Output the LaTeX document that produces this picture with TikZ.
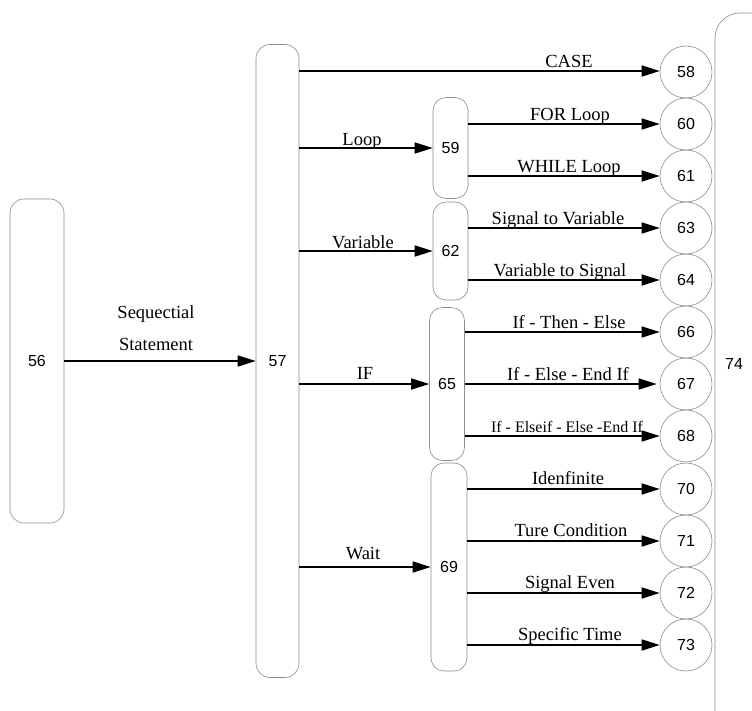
\documentclass[tikz,border=0pt]{standalone}
\usepackage{fontspec}
\setmainfont{Liberation Serif}
\newfontfamily\numfont{Liberation Sans}
\usetikzlibrary{arrows.meta,shapes.geometric}
\begin{document}
\begin{tikzpicture}[x=1pt,y=-1pt,
  box/.style={draw=black!45,line width=0.6pt,rounded corners=14pt,inner sep=0pt,font=\numfont\fontsize{16}{18}\selectfont},
  circ/.style={draw=black!45,line width=0.6pt,circle,minimum size=52pt,inner sep=0pt,font=\numfont\fontsize{16}{18}\selectfont},
  arr/.style={line width=1.6pt,-{Triangle[length=18pt,width=11pt]}},
  lab/.style={font=\fontsize{18.5}{20}\selectfont,inner sep=0pt,anchor=base},
  slab/.style={font=\fontsize{16}{18}\selectfont,inner sep=0pt,anchor=base}]
\useasboundingbox (0,0) rectangle (752,710);
\clip (0,0) rectangle (752,710);
\fill[white] (0,0) rectangle (752,710);
% big box 74 (cut by right edge)
\draw[draw=black!45,line width=0.6pt,rounded corners=25pt] (800,13) -- (715,13) -- (715,760);
\node[font=\numfont\fontsize{16}{18}\selectfont] (n74) at (734,364) {74};
% boxes
\node[box,minimum width=54pt,minimum height=324pt] (b56) at (37,361) {56};
\node[box,minimum width=43pt,minimum height=633pt] (b57) at (277.5,361) {57};
\node[box,rounded corners=13pt,minimum width=35pt,minimum height=101pt] (b59) at (450.5,148) {59};
\node[box,rounded corners=13pt,minimum width=35pt,minimum height=98pt] (b62) at (450.5,251) {62};
\node[box,rounded corners=13pt,minimum width=35pt,minimum height=153pt] (b65) at (447,384) {65};
\node[box,rounded corners=13pt,minimum width=36pt,minimum height=208pt] (b69) at (449,567) {69};
% circles
\foreach \n/\y in {58/72,60/124,61/176,63/228,64/280,66/332,67/384,68/436,70/489,71/541,72/593,73/645}
  \node[circ] (c\n) at (686,\y) {\n};
% 56 -> 57
\draw[arr] (b56.east |- 0,361) -- (b57.west |- 0,361);
\node[lab] (tseq1) at (156,318) {Sequectial};
\node[lab] (tseq2) at (156,350) {Statement};
% 57 -> level 2
\draw[arr] (b57.east |- 0,71) -- (c58.west |- 0,71);
\node[lab] (tcase) at (569,67) {CASE};
\draw[arr] (b57.east |- b59) -- (b59.west);
\node[lab] (tloop) at (362,145) {Loop};
\draw[arr] (b57.east |- b62) -- (b62.west);
\node[lab] (tvar) at (363,248) {Variable};
\draw[arr] (b57.east |- b65) -- (b65.west);
\node[lab] (tif) at (365,379) {IF};
\draw[arr] (b57.east |- b69) -- (b69.west);
\node[lab] (twait) at (363,559) {Wait};
% 59
\draw[arr] (b59.east |- c60) -- (c60.west);
\node[lab] (tfor) at (570,120) {FOR Loop};
\draw[arr] (b59.east |- c61) -- (c61.west);
\node[lab] (twhile) at (569,172) {WHILE Loop};
% 62
\draw[arr] (b62.east |- c63) -- (c63.west);
\node[lab] (ts2v) at (558,224) {Signal to Variable};
\draw[arr] (b62.east |- c64) -- (c64.west);
\node[lab] (tv2s) at (560,276) {Variable to Signal};
% 65
\draw[arr] (b65.east |- c66) -- (c66.west);
\node[lab] (tite) at (569,328) {If - Then - Else};
\draw[arr] (b65.east |- c67) -- ([xshift=-3pt]c67.west);
\node[lab] (tiee) at (568,380) {If - Else - End If};
\draw[arr] (b65.east |- c68) -- (c68.west);
\node[slab] (tieee) at (567,432) {If - Elseif - Else -End If};
% 69
\draw[arr] (b69.east |- c70) -- (c70.west);
\node[lab] (tind) at (568,484) {Idenfinite};
\draw[arr] (b69.east |- c71) -- (c71.west);
\node[lab] (ttrue) at (571,536) {Ture Condition};
\draw[arr] (b69.east |- c72) -- (c72.west);
\node[lab] (tsig) at (570,588) {Signal Even};
\draw[arr] (b69.east |- c73) -- (c73.west);
\node[lab] (tspec) at (570,640) {Specific Time};
\end{tikzpicture}
\end{document}
